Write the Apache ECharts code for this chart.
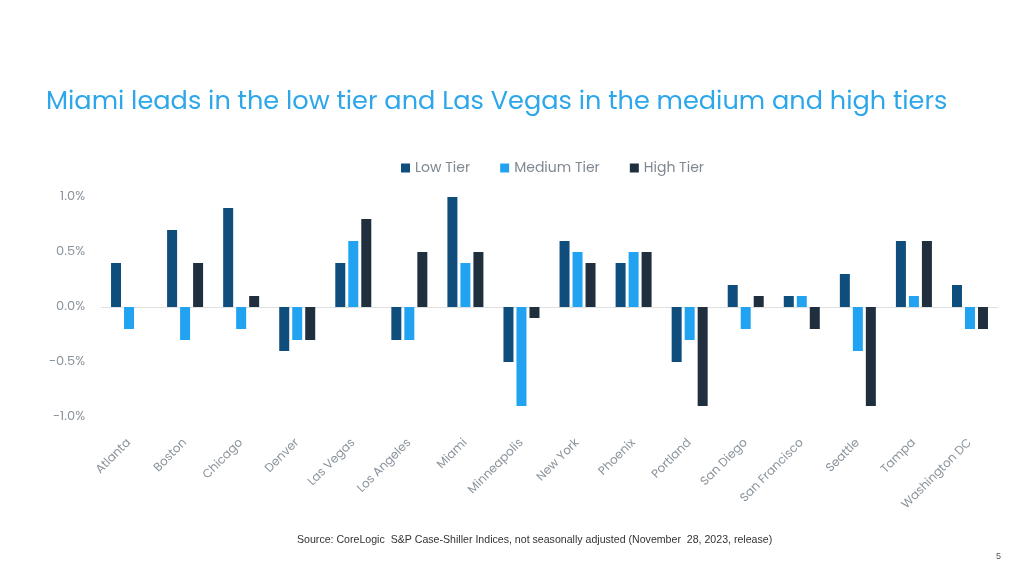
<!DOCTYPE html>
<html><head><meta charset="utf-8">
<script src="https://cdn.jsdelivr.net/npm/echarts@6/dist/echarts.min.js"></script>
<style>html,body{margin:0;padding:0;background:#fff}#c{width:1024px;height:576px}</style>
</head><body><div id="c"></div>
<script>
const categories = ["Atlanta","Boston","Chicago","Denver","Las Vegas","Los Angeles","Miami","Minneapolis","New York","Phoenix","Portland","San Diego","San Francisco","Seattle","Tampa","Washington DC"];
const lowTier    = [0.4, 0.7, 0.9, -0.4, 0.4, -0.3, 1.0, -0.5, 0.6, 0.4, -0.5, 0.2, 0.1, 0.3, 0.6, 0.2];
const mediumTier = [-0.2, -0.3, -0.2, -0.3, 0.6, -0.3, 0.4, -0.9, 0.5, 0.5, -0.3, -0.2, 0.1, -0.4, 0.1, -0.2];
const highTier   = [0, 0.4, 0.1, -0.3, 0.8, 0.5, 0.5, -0.1, 0.4, 0.5, -0.9, 0.1, -0.2, -0.9, 0.6, -0.2];
const yTicks = [-1.0, -0.5, 0.0, 0.5, 1.0];
const titleText = "Miami leads in the low tier and Las Vegas in the medium and high tiers";
const sourceText = "Source: CoreLogic  S&P Case-Shiller Indices, not seasonally adjusted (November  28, 2023, release)";

const chart = echarts.init(document.getElementById('c'), null, {renderer:'canvas'});
const font = "Poppins, 'Open Sans', Lato, sans-serif";
const mk = (name, data, color) => ({
  name, type:'bar', data, barWidth:10, barGap:'30%',
  itemStyle:{color}
});
chart.setOption({
  animation:false,
  title:[
    {text:titleText, left:41, top:85, textStyle:{fontFamily:font, fontSize:25.6, fontWeight:'normal', color:'#2ea7ea'}},
    {text:sourceText, left:292, top:530, textStyle:{fontFamily:"'Liberation Sans', Arial, sans-serif", fontSize:10.6, fontWeight:'normal', color:'#333'}},
    {text:'5', left:991, top:547, textStyle:{fontFamily:"'Liberation Sans', Arial, sans-serif", fontSize:9, fontWeight:'normal', color:'#555'}}
  ],
  legend:{
    top:156, left:396, itemWidth:9, itemHeight:9, itemGap:30, icon:'rect',
    textStyle:{fontFamily:font, fontSize:14, color:'#7f8891'},
    data:['Low Tier','Medium Tier','High Tier']
  },
  grid:{left:101, right:26, top:197, bottom:159, containLabel:false},
  xAxis:{
    type:'category', data:categories,
    axisLine:{onZero:true, lineStyle:{color:'#e0e0e0'}},
    axisTick:{show:false},
    axisLabel:{rotate:45, interval:0, fontFamily:font, fontSize:12, color:'#8a939c', margin:24}
  },
  yAxis:{
    type:'value', min:-1, max:1, interval:0.5,
    axisLine:{show:false}, axisTick:{show:false}, splitLine:{show:false},
    axisLabel:{fontFamily:font, fontSize:13, color:'#8a939c', margin:16,
      formatter:v => { const t = yTicks.find(x => Math.abs(x-v)<1e-9); return (t!==undefined?t:v).toFixed(1)+'%'; }}
  },
  series:[
    mk('Low Tier', lowTier, '#0f4d7c'),
    mk('Medium Tier', mediumTier, '#21a3f1'),
    mk('High Tier', highTier, '#1f2f3e')
  ]
});
</script></body></html>
